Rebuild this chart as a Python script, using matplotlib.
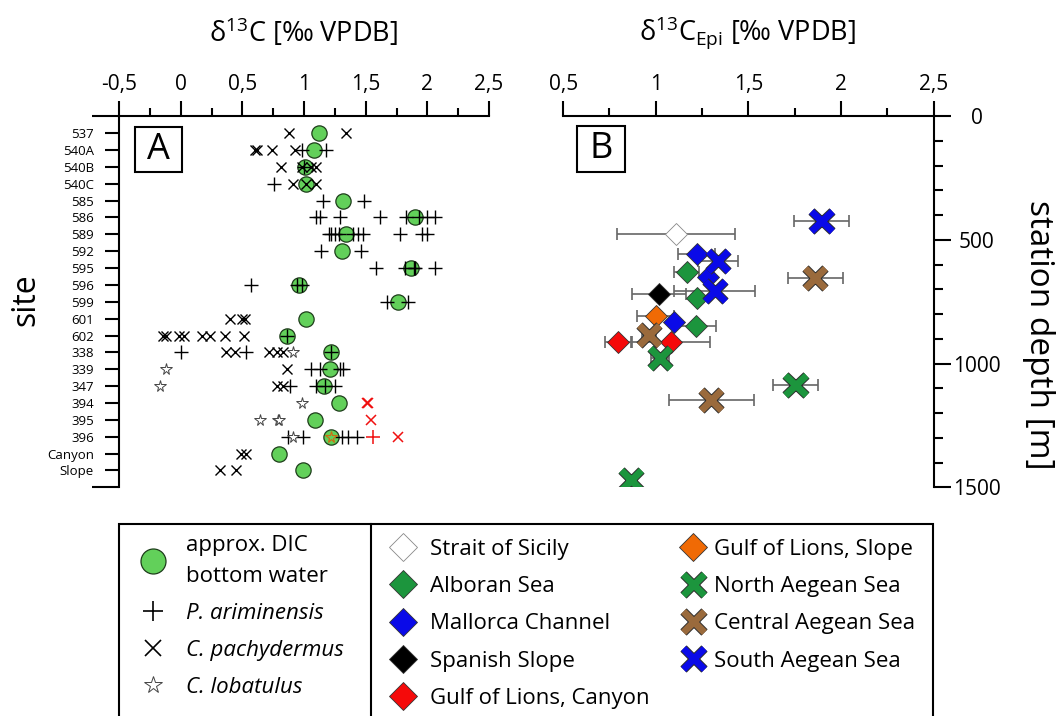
import numpy as np
import matplotlib
matplotlib.use('Agg')
import matplotlib.pyplot as plt
import matplotlib.patheffects as pe
from matplotlib.lines import Line2D
from matplotlib.patches import Rectangle

plt.rcParams['font.family'] = ['Open Sans', 'DejaVu Sans']
plt.rcParams['mathtext.default'] = 'regular'

# ---- panel A data: d13C per site ----
sites = ['537', '540A', '540B', '540C', '585', '586', '589', '592', '595', '596', '599',
         '601', '602', '338', '339', '347', '394', '395', '396', 'Canyon', 'Slope']
dic_bw = [1.12, 1.08, 1.01, 1.02, 1.32, 1.90, 1.34, 1.31, 1.87, 0.96, 1.76,
          1.02, 0.86, 1.22, 1.21, 1.16, 1.28, 1.09, 1.22, 0.80, 0.99]

arim_site = ['540A', '540A', '540B', '540C', '585', '585',
             '586', '586', '586', '586', '586', '586', '586', '586',
             '589', '589', '589', '589', '589', '589', '589', '589', '589', '589',
             '592', '592', '595', '595', '595', '595', '595',
             '596', '596', '596', '599', '599', '602',
             '338', '338', '338', '339', '339', '339', '339',
             '347', '347', '347', '347', '396', '396', '396', '396', '396']
arim_val = [0.98, 1.18, 1.00, 0.76, 1.15, 1.49,
            1.10, 1.13, 1.29, 1.62, 1.83, 1.93, 2.00, 2.06,
            1.20, 1.22, 1.25, 1.28, 1.40, 1.44, 1.48, 1.78, 1.96, 2.00,
            1.14, 1.46, 1.58, 1.82, 1.89, 1.90, 2.06,
            0.57, 0.94, 0.98, 1.67, 1.84, 0.86,
            0.00, 0.53, 1.22, 1.06, 1.13, 1.29, 1.32,
            0.89, 1.10, 1.17, 1.25, 0.87, 0.99, 1.31, 1.36, 1.43]

pach_site = ['537', '537', '540A', '540A', '540A', '540A', '540B', '540B', '540B', '540B',
             '540C', '540C', '540C', '601', '601', '601',
             '602', '602', '602', '602', '602', '602', '602', '602',
             '338', '338', '338', '338', '338', '339', '347', '347',
             'Canyon', 'Canyon', 'Slope', 'Slope']
pach_val = [0.88, 1.34, 0.60, 0.62, 0.74, 0.93, 0.81, 0.98, 1.06, 1.10,
            0.91, 1.02, 1.10, 0.40, 0.50, 0.52,
            -0.14, -0.12, -0.01, 0.03, 0.17, 0.24, 0.36, 0.51,
            0.37, 0.44, 0.72, 0.78, 0.83, 0.86, 0.78, 0.83,
            0.49, 0.53, 0.32, 0.45]

lob_site = ['338', '339', '347', '394', '395', '395', '395', '396']
lob_val = [0.91, -0.12, -0.17, 0.98, 0.64, 0.79, 0.80, 0.91]

# red symbols at 394-396
red_pach_site = ['394', '394', '395', '396']
red_pach_val = [1.51, 1.52, 1.54, 1.76]
red_arim_site = ['396']
red_arim_val = [1.56]
orange_lob_site = ['396']
orange_lob_val = [1.22]

# ---- panel B data: d13C_Epi vs station depth ----
regions = ['Strait of Sicily', 'Alboran Sea', 'Mallorca Channel', 'Spanish Slope',
           'Gulf of Lions, Canyon', 'Gulf of Lions, Slope', 'North Aegean Sea',
           'Central Aegean Sea', 'South Aegean Sea']
region_d13c = [[1.108], [1.166, 1.22, 1.216], [1.22, 1.282, 1.097], [1.016],
               [0.797, 1.081], [1.0], [1.022, 1.755, 0.866],
               [1.862, 0.963, 1.30], [1.895, 1.336, 1.318]]
region_depth = [[477], [629, 736, 848], [558, 649, 830], [719],
                [911, 911], [808], [978, 1085, 1470],
                [653, 884, 1148], [423, 585, 705]]
region_err = [[0.32], [0.07, 0.0, 0.11], [0.10, 0.0, 0.0], [0.145],
              [0.07, 0.21], [0.10], [0.05, 0.12, 0.0],
              [0.15, 0.04, 0.23], [0.15, 0.11, 0.22]]
region_color = ['white', '#1c953d', '#0a0ae8', 'black', '#f50a0a', '#f06a05',
                '#1c953d', '#9a6a3c', '#0a0ae8']
region_marker = ['D', 'D', 'D', 'D', 'D', 'D', 'x', 'x', 'x']

W, H = 1058, 716
fig = plt.figure(figsize=(W / 100, H / 100), dpi=100)

axA = fig.add_axes([119 / W, 1 - 487.3 / H, 370 / W, 371 / H])
axB = fig.add_axes([563.2 / W, 1 - 487.3 / H, 370.3 / W, 371 / H])

x_outline = [pe.Stroke(linewidth=6.4, foreground='#2e2e2e'), pe.Normal()]

# ---- panel A ----
pos = {s: i for i, s in enumerate(sites)}
def ypos(lst):
    return [pos[s] for s in lst]

axA.plot(dic_bw, range(len(sites)), 'o', ms=11, mfc='#62d05a', mec='#1d3d1a', mew=0.9, zorder=2)
axA.plot(arim_val, ypos(arim_site), '+', ms=9.5, color='black', mew=1.0, zorder=3)
axA.plot(pach_val, ypos(pach_site), 'x', ms=7.5, color='black', mew=1.0, zorder=3)
axA.plot(lob_val, ypos(lob_site), '*', ms=8.5, mfc='white', mec='#444444', mew=0.7, zorder=3)
axA.plot(red_pach_val, ypos(red_pach_site), 'x', ms=7.5, color='#f01010', mew=1.1, zorder=3)
axA.plot(red_arim_val, ypos(red_arim_site), '+', ms=9.5, color='#f01010', mew=1.1, zorder=3)
axA.plot(orange_lob_val, ypos(orange_lob_site), '*', ms=8.5, mfc='none', mec='#d06a10', mew=0.8, zorder=4)

axA.set_xlim(-0.5, 2.5)
axA.set_ylim(len(sites), -1)
axA.set_xticks([-0.5, 0, 0.5, 1, 1.5, 2, 2.5], ['-0,5', '0', '0,5', '1', '1,5', '2', '2,5'])
axA.set_xticks(np.arange(-0.25, 2.5, 0.5), minor=True)
axA.set_yticks(range(len(sites)), sites)
axA.set_yticks([-1, len(sites)], minor=True)
axA.xaxis.tick_top()
for s in ['right', 'bottom']:
    axA.spines[s].set_visible(False)
for s in ['top', 'left']:
    axA.spines[s].set_linewidth(1.5)
axA.tick_params(axis='x', which='major', length=11, width=1.5, labelsize=15, pad=4)
axA.tick_params(axis='x', which='minor', length=6, width=1.5)
axA.tick_params(axis='y', which='major', length=10, width=1.5, labelsize=9.5, pad=8)
axA.tick_params(axis='y', which='minor', length=19.5, width=1.5)
axA.add_patch(Rectangle((0.0432, 0.850), 0.127, 0.121, transform=axA.transAxes,
                        fc='white', ec='black', lw=1.5, zorder=5))
axA.text(0.107, 0.9105, 'A', transform=axA.transAxes, fontsize=26, ha='center', va='center',
         zorder=6)

# ---- panel B ----
for name, xs, ys, es, c, m in zip(regions, region_d13c, region_depth, region_err,
                                  region_color, region_marker):
    axB.errorbar(xs, ys, xerr=es, fmt='none', ecolor='#666666', elinewidth=1.2,
                 capsize=4, capthick=1.2, zorder=2)
for name, xs, ys, c, m in zip(regions, region_d13c, region_depth, region_color, region_marker):
    if m == 'D':
        ec = '#888888' if c == 'white' else '#333333'
        axB.plot(xs, ys, 'D', ms=11, mfc=c, mec=ec, mew=0.6, ls='none', zorder=3)
for name, xs, ys, c, m in zip(regions, region_d13c, region_depth, region_color, region_marker):
    if m == 'x':
        axB.plot(xs, ys, 'x', ms=14.5, mec=c, mew=5, ls='none', zorder=4,
                 path_effects=x_outline)

axB.set_xlim(0.5, 2.5)
axB.set_ylim(1500, 0)
axB.set_xticks([0.5, 1, 1.5, 2, 2.5], ['0,5', '1', '1,5', '2', '2,5'])
axB.set_xticks(np.arange(0.75, 2.5, 0.5), minor=True)
axB.set_yticks([0, 500, 1000, 1500])
axB.set_yticks(np.arange(100, 1500, 100), minor=True)
axB.xaxis.tick_top()
axB.yaxis.tick_right()
for s in ['left', 'bottom']:
    axB.spines[s].set_visible(False)
for s in ['top', 'right']:
    axB.spines[s].set_linewidth(1.5)
axB.tick_params(axis='x', which='major', length=11, width=1.5, labelsize=15, pad=4)
axB.tick_params(axis='x', which='minor', length=6, width=1.5)
axB.tick_params(axis='y', which='major', length=12, width=1.5, labelsize=15, pad=19)
axB.tick_params(axis='y', which='minor', length=6.5, width=1.5)
for t in axB.yaxis.get_major_ticks():
    t.label2.set_horizontalalignment('center')
axB.add_patch(Rectangle((0.0373, 0.849), 0.1285, 0.124, transform=axB.transAxes,
                        fc='white', ec='black', lw=1.5, zorder=5))
axB.text(0.1015, 0.9116, 'B', transform=axB.transAxes, fontsize=26, ha='center', va='center',
         zorder=6)

# ---- titles and axis labels ----
fig.text(304 / W, 1 - 33 / H, r'$\mathregular{\delta^{13}C}$ [‰ VPDB]', fontsize=19.5,
         ha='center', va='center')
fig.text(748 / W, 1 - 33 / H, r'$\mathregular{\delta^{13}C_{Epi}}$ [‰ VPDB]', fontsize=19.5,
         ha='center', va='center')
fig.text(26 / W, 1 - 300 / H, 'site', fontsize=23, rotation=90, ha='center', va='center')
fig.text(1039 / W, 1 - 335 / H, 'station depth [m]', fontsize=24, rotation=-90,
         ha='center', va='center')

# ---- legend box ----
box = Rectangle((119 / W, -0.05), (933 - 119) / W, 0.05 + 1 - 524 / H, transform=fig.transFigure,
                fill=False, ec='black', lw=1.5)
fig.add_artist(box)
fig.add_artist(Line2D([371 / W, 371 / W], [-0.05, 1 - 524 / H], transform=fig.transFigure,
                      color='black', lw=1.5))

h_left = [Line2D([], [], marker='o', ls='none', ms=18, mfc='#62d05a', mec='#1d3d1a', mew=0.9),
          Line2D([], [], marker='+', ls='none', ms=14, color='black', mew=1.2),
          Line2D([], [], marker='x', ls='none', ms=11, color='black', mew=1.2),
          Line2D([], [], marker='*', ls='none', ms=13, mfc='white', mec='#444444', mew=0.7)]
l_left = ['approx. DIC\nbottom water', 'P. ariminensis', 'C. pachydermus', 'C. lobatulus']
leg1 = fig.legend(h_left, l_left, loc='upper left', bbox_to_anchor=(142 / W, 1 - 535 / H),
                  frameon=False, fontsize=16, borderpad=0, borderaxespad=0,
                  handlelength=1.0, handletextpad=1.0, labelspacing=0.73)
for t, lab in zip(leg1.get_texts(), l_left):
    t.set_linespacing(1.6)
    if lab.startswith(('P.', 'C.')):
        t.set_style('italic')

def region_handle(i):
    c = region_color[i]
    if region_marker[i] == 'D':
        ec = '#888888' if c == 'white' else '#333333'
        return Line2D([], [], marker='D', ls='none', ms=14, mfc=c, mec=ec, mew=0.6)
    return Line2D([], [], marker='x', ls='none', ms=15, mec=c, mew=5, path_effects=x_outline)

mid = [0, 1, 2, 3, 4]
right = [5, 6, 7, 8]
leg2 = fig.legend([region_handle(i) for i in mid], [regions[i] for i in mid], loc='upper left',
                  bbox_to_anchor=(392 / W, 1 - 539 / H), frameon=False, fontsize=16,
                  borderpad=0, borderaxespad=0, handlelength=1.0, handletextpad=0.7,
                  labelspacing=0.73)
leg3 = fig.legend([region_handle(i) for i in right], [regions[i] for i in right], loc='upper left',
                  bbox_to_anchor=(682 / W, 1 - 539 / H), frameon=False, fontsize=16,
                  borderpad=0, borderaxespad=0, handlelength=1.0, handletextpad=0.45,
                  labelspacing=0.73)

fig.savefig('out.png', dpi=100)
